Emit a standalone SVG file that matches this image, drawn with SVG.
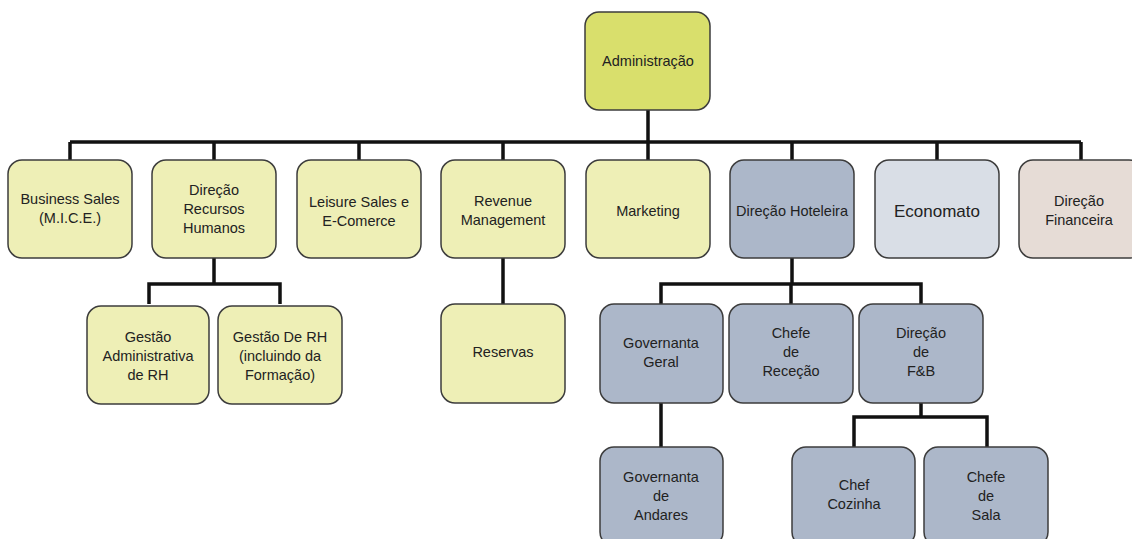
<svg xmlns="http://www.w3.org/2000/svg" width="1132" height="539" viewBox="0 0 1132 539">
<style>
.box{stroke:#3c3c3c;stroke-width:1.5}
.adm{fill:#d9df6c}
.yl{fill:#eeefb6}
.bl{fill:#acb7c9}
.ec{fill:#d9dee6}
.fi{fill:#e6dcd6}
text{font-family:"Liberation Sans",Arial,sans-serif;font-size:14.5px;fill:#222;text-anchor:middle}
.con{fill:none;stroke:#111;stroke-width:3.5;stroke-linejoin:miter}
</style>
<rect width="1132" height="539" fill="#fff"/>
<g id="connectors">
<path class="con" d="M648 110V142M70 142H1081M70 142V160M214 142V160M359 142V160M503 142V160M648 142V160M792 142V160M937 142V160M1081 142V160"/>
<path class="con" d="M214 258V284M149 304V284H280V304"/>
<path class="con" d="M503 258V304"/>
<path class="con" d="M792 258V284M661 304V284H921V304M791 284V304"/>
<path class="con" d="M661 403V447"/>
<path class="con" d="M921 403V417M854 447V417H987V447"/>
</g>
<g id="n-admin"><rect class="box adm" x="585" y="12" width="125" height="98" rx="14"/><text x="648" y="66">Administração</text></g>
<g id="n-business"><rect class="box yl" x="8" y="160" width="124" height="98" rx="14"/><text x="70" y="204">Business Sales</text><text x="70" y="223">(M.I.C.E.)</text></g>
<g id="n-rh"><rect class="box yl" x="152" y="160" width="124" height="98" rx="14"/><text x="214" y="195">Direção</text><text x="214" y="214">Recursos</text><text x="214" y="233">Humanos</text></g>
<g id="n-leisure"><rect class="box yl" x="297" y="160" width="124" height="98" rx="14"/><text x="359" y="207">Leisure Sales e</text><text x="359" y="226">E-Comerce</text></g>
<g id="n-revenue"><rect class="box yl" x="441" y="160" width="124" height="98" rx="14"/><text x="503" y="206">Revenue</text><text x="503" y="225">Management</text></g>
<g id="n-marketing"><rect class="box yl" x="586" y="160" width="124" height="98" rx="14"/><text x="648" y="216">Marketing</text></g>
<g id="n-hoteleira"><rect class="box bl" x="730" y="160" width="124" height="98" rx="14"/><text x="792" y="216">Direção Hoteleira</text></g>
<g id="n-economato"><rect class="box ec" x="875" y="160" width="124" height="98" rx="14"/><text x="937" y="217" style="font-size:17px">Economato</text></g>
<g id="n-financeira"><rect class="box fi" x="1019" y="160" width="124" height="98" rx="14"/><text x="1079" y="206">Direção</text><text x="1079" y="225">Financeira</text></g>
<g id="n-gest-adm"><rect class="box yl" x="87" y="306" width="122" height="98" rx="14"/><text x="148" y="342">Gestão</text><text x="148" y="361">Administrativa</text><text x="148" y="380">de RH</text></g>
<g id="n-gest-rh"><rect class="box yl" x="218" y="306" width="124" height="98" rx="14"/><text x="280" y="342">Gestão De RH</text><text x="280" y="361">(incluindo da</text><text x="280" y="380">Formação)</text></g>
<g id="n-reservas"><rect class="box yl" x="441" y="304" width="124" height="99" rx="14"/><text x="503" y="357">Reservas</text></g>
<g id="n-gov-geral"><rect class="box bl" x="600" y="304" width="123" height="99" rx="14"/><text x="661" y="348">Governanta</text><text x="661" y="367">Geral</text></g>
<g id="n-rececao"><rect class="box bl" x="729" y="304" width="124" height="99" rx="14"/><text x="791" y="338">Chefe</text><text x="791" y="357">de</text><text x="791" y="376">Receção</text></g>
<g id="n-fb"><rect class="box bl" x="859" y="304" width="124" height="99" rx="14"/><text x="921" y="338">Direção</text><text x="921" y="357">de</text><text x="921" y="376">F&amp;B</text></g>
<g id="n-gov-andares"><rect class="box bl" x="600" y="447" width="123" height="99" rx="14"/><text x="661" y="482">Governanta</text><text x="661" y="501">de</text><text x="661" y="520">Andares</text></g>
<g id="n-cozinha"><rect class="box bl" x="792" y="447" width="123" height="99" rx="14"/><text x="854" y="490">Chef</text><text x="854" y="509">Cozinha</text></g>
<g id="n-sala"><rect class="box bl" x="924" y="447" width="124" height="99" rx="14"/><text x="986" y="482">Chefe</text><text x="986" y="501">de</text><text x="986" y="520">Sala</text></g>
</svg>
